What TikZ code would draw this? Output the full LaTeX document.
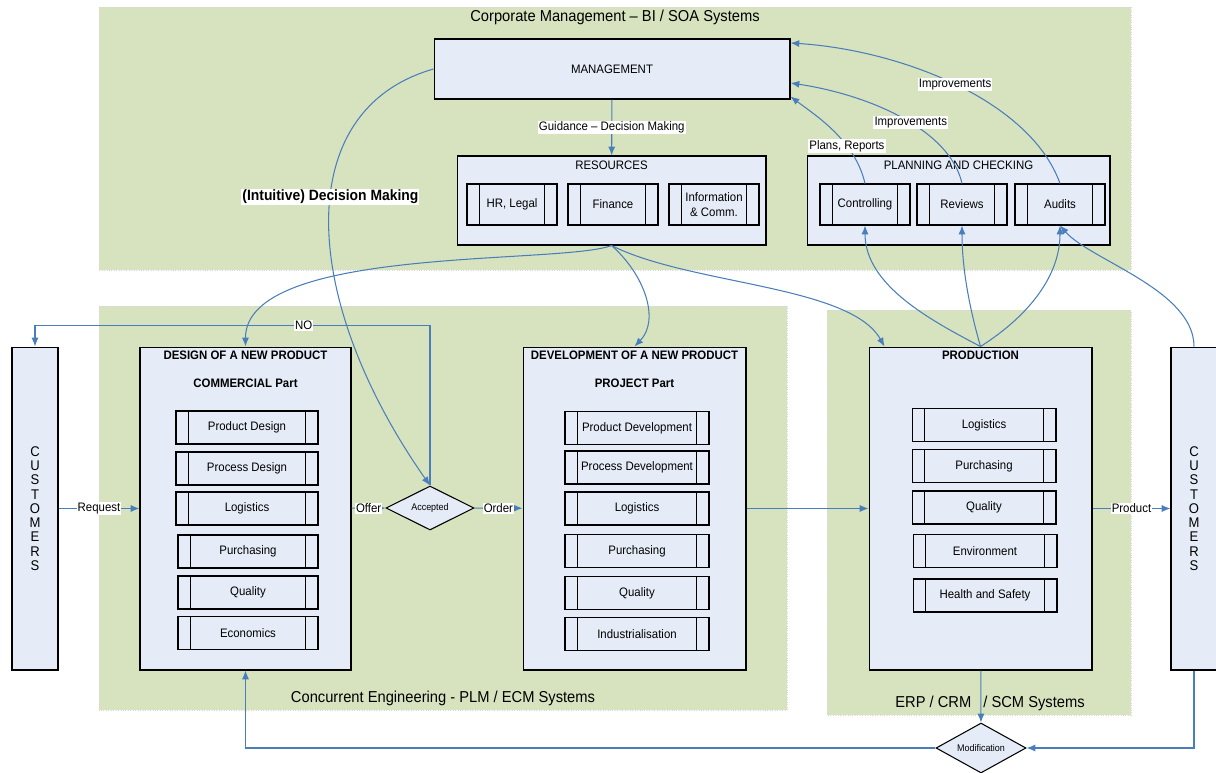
\documentclass[tikz,border=0pt]{standalone}
\usepackage{fontspec}
\setmainfont{Liberation Sans}[FakeStretch=0.93]
\usetikzlibrary{arrows.meta,positioning,shapes.geometric}
\definecolor{panelgreen}{HTML}{D7E3BF}
\definecolor{boxfill}{HTML}{E6ECF7}
\definecolor{linkblue}{HTML}{4A7EBB}

\begin{document}
\begin{tikzpicture}[x=0.02cm,y=-0.02cm,
	panel/.style={fill=panelgreen,draw=black!15,densely dotted},
	box/.style={draw,fill=boxfill,line width=0.6pt,inner sep=0pt},
	proc/.style={box,minimum width=#1,minimum height=0.66cm,path picture={
		\draw[line width=0.6pt] ([xshift=0.25cm]path picture bounding box.north west) -- ([xshift=0.25cm]path picture bounding box.south west);
		\draw[line width=0.6pt] ([xshift=-0.25cm]path picture bounding box.north east) -- ([xshift=-0.25cm]path picture bounding box.south east);}},
	proc/.default=2.84cm,
	decision/.style={diamond,draw,fill=boxfill,line width=0.6pt,inner sep=0pt,aspect=2,font=\fontsize{5.5}{6}\selectfont},
	title/.style={font=\fontsize{7}{8.4}\selectfont\bfseries},
	letters/.style={align=center,font=\fontsize{8}{8.1}\selectfont},
	area/.style={font=\fontsize{9}{11}\selectfont},
	lbl/.style={fill=white,inner sep=0.6pt},
	flow/.style={-{Latex[length=5pt,width=4pt]},draw=linkblue,line width=0.6pt},
	font=\fontsize{7}{8.4}\selectfont]
\useasboundingbox (0,0) rectangle (1216,773);

% system areas
\fill[panel] (99,7) rectangle (1131,270);
\fill[panel] (99,306) rectangle (787,710);
\fill[panel] (827,310) rectangle (1131,715);
\node[area] (corporate) at (615,17) {Corporate Management -- BI / SOA Systems};
\node[area] (concurrent) at (443,698) {Concurrent Engineering - PLM / ECM Systems};
\node[area] (erp) at (990,703) {ERP / CRM \enspace / SCM Systems};

% management level
\node[box,minimum width=7.12cm,minimum height=1.2cm] (mgmt) at (612,69) {MANAGEMENT};
\node[box,minimum width=6.18cm,minimum height=1.78cm] (resources) at (611.5,200.5) {};
\node (restitle) at (611.5,165) {RESOURCES};
\node[proc=1.8cm,minimum height=0.82cm] (hr) at (512,204.5) {HR, Legal};
\node[proc=1.8cm,minimum height=0.82cm] (finance) at (613,204.5) {Finance};
\node[proc=1.8cm,minimum height=0.82cm,align=center] (infocomm) at (714,204.5) {Information\\\& Comm.};
\node[box,minimum width=6.06cm,minimum height=1.78cm] (planning) at (958.5,200.5) {};
\node (plantitle) at (958.5,165) {PLANNING AND CHECKING};
\node[proc=1.8cm,minimum height=0.82cm] (controlling) at (865,204.5) {Controlling};
\node[proc=1.8cm,minimum height=0.82cm] (reviews) at (962,204.5) {Reviews};
\node[proc=1.8cm,minimum height=0.82cm] (audits) at (1060,204.5) {Audits};

% customers
\node[box,minimum width=0.92cm,minimum height=6.46cm,letters] (custL) at (35,508.5) {C\\U\\S\\T\\O\\M\\E\\R\\S};
\node[box,minimum width=0.92cm,minimum height=6.46cm,letters] (custR) at (1194,508.5) {C\\U\\S\\T\\O\\M\\E\\R\\S};

% design
\node[box,minimum width=4.22cm,minimum height=6.46cm] (design) at (245.5,508.5) {};
\node[title] (designtitle) at (245.5,355) {DESIGN OF A NEW PRODUCT};
\node[title] (commercial) at (245.5,383) {COMMERCIAL Part};
\node[proc] (proddesign) at (247,427.5) {Product Design};
\node[proc] (procdesign) at (247,468.5) {Process Design};
\node[proc] (dlogistics) at (247,508.5) {Logistics};
\node[proc=2.8cm] (dpurchasing) at (248,551.5) {Purchasing};
\node[proc=2.8cm] (dquality) at (248,592.5) {Quality};
\node[proc=2.8cm] (economics) at (248,633) {Economics};

\node[decision,minimum width=1.76cm,minimum height=0.88cm] (accepted) at (430,508) {Accepted};

% development
\node[box,minimum width=4.46cm,minimum height=6.46cm] (develop) at (634.5,508.5) {};
\node[title] (developtitle) at (634.5,355) {DEVELOPMENT OF A NEW PRODUCT};
\node[title] (project) at (634.5,383) {PROJECT Part};
\node[proc=2.88cm] (proddevel) at (637,428) {Product Development};
\node[proc=2.88cm] (procdevel) at (637,467.5) {Process Development};
\node[proc=2.88cm] (vlogistics) at (637,508.5) {Logistics};
\node[proc=2.88cm] (vpurchasing) at (637,551) {Purchasing};
\node[proc=2.88cm] (vquality) at (637,593) {Quality};
\node[proc=2.88cm] (industrial) at (637,634) {Industrialisation};

% production
\node[box,minimum width=4.46cm,minimum height=6.46cm] (production) at (980.5,508.5) {};
\node[title] (prodtitle) at (980.5,355) {PRODUCTION};
\node[proc=2.88cm] (plogistics) at (984,425) {Logistics};
\node[proc=2.88cm] (ppurchasing) at (984,466) {Purchasing};
\node[proc=2.88cm] (pquality) at (984,507.5) {Quality};
\node[proc=2.88cm] (environment) at (985,551) {Environment};
\node[proc=2.88cm] (health) at (985,595.5) {Health and Safety};

\node[decision,minimum width=1.8cm,minimum height=1.0cm] (modif) at (981,748) {Modification};

% flows
\draw[flow] (mgmt) -- node[lbl]{Guidance -- Decision Making} (resources);
\draw[flow] (mgmt.west) .. controls (290,110) and (300,300) .. node[lbl,pos=0.44,font=\fontsize{8.5}{10}\selectfont\bfseries]{(Intuitive) Decision Making} (accepted.north);
\draw[flow] (resources.south) .. controls (560,265) and (245,245) .. (design.north);
\draw[flow] (resources.south) .. controls (645,275) and (660,320) .. (develop.north);
\draw[flow] (resources.south) .. controls (690,285) and (850,285) .. ([xshift=0.32cm]production.north west);
\draw[flow] (custL) -- node[lbl]{Request} (design);
\draw[flow] (design) -- node[lbl]{Offer} (accepted);
\draw[flow] (accepted) -- node[lbl]{Order} (develop);
\draw[flow] (accepted.north) -- ++(0,-160) -| node[lbl,pos=0.16]{NO} (custL.north);
\draw[flow] (develop) -- (production);
\draw[flow] (production) -- node[lbl]{Product} (custR);
\draw[flow] (production.north) .. controls (930,320) and (865,285) .. (controlling.south);
\draw[flow] (production.north) .. controls (970,310) and (962,270) .. (reviews.south);
\draw[flow] (production.north) .. controls (1030,315) and (1060,275) .. (audits.south);
\draw[flow] (custR.north) .. controls (1194,290) and (1090,260) .. (audits.south);
\draw[flow] (controlling.north) .. controls (855,140) and (815,115) .. node[lbl,pos=0.33]{Plans, Reports} ([yshift=0.06cm]mgmt.south east);
\draw[flow] (reviews.north) .. controls (950,130) and (870,95) .. node[lbl,pos=0.45]{Improvements} ([yshift=-0.28cm]mgmt.east);
\draw[flow] (audits.north) .. controls (1030,100) and (900,50) .. node[lbl,pos=0.5]{Improvements} ([yshift=0.52cm]mgmt.east);
\draw[flow] (production) -- (modif);
\draw[flow] (custR.south) |- (modif.east);
\draw[flow] (modif.west) -| (design.south);
\end{tikzpicture}
\end{document}
